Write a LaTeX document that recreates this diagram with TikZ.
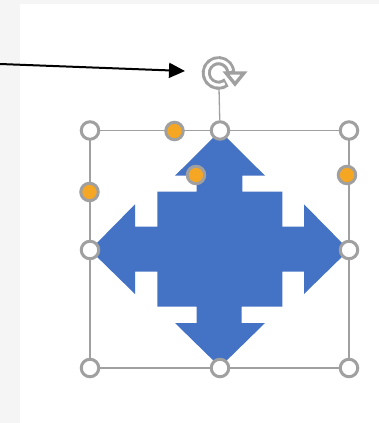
\documentclass[tikz,border=0pt]{standalone}
\usetikzlibrary{arrows.meta}
\definecolor{hgray}{RGB}{160,160,160}
\definecolor{shapeblue}{RGB}{68,114,196}
\definecolor{hamber}{RGB}{245,166,35}
\tikzset{x=1pt,y=-1pt,
  handle/.style={circle,draw=hgray,line width=3pt,fill=white,minimum size=17.5pt,inner sep=0pt},
  adjust/.style={circle,draw=hgray,line width=3pt,fill=hamber,minimum size=17.5pt,inner sep=0pt},
  frameline/.style={draw=hgray,line width=1.3pt}}
\begin{document}
\begin{tikzpicture}
\useasboundingbox (0,0) rectangle (379,423);
\fill[black!4] (0,0) rectangle (379,423);
\fill[white] (20,4) rectangle (379,423);
\coordinate (rot) at (218.5,73);
\coordinate (rotbase) at (219,88);
\coordinate (tl) at (90,130.5);
\coordinate (tr) at (349,130.5);
\coordinate (bl) at (90,368);
\coordinate (br) at (349,368);
\draw[frameline] (tl) rectangle (br);
\fill[shapeblue] (220,131) -- (265,175.7) -- (242.3,175.7) -- (242.3,191.7) -- (282.3,191.7)
 -- (282.3,226.7) -- (304,226.7) -- (304,204.3) -- (349,250) -- (304,294) -- (304,271.7)
 -- (282.3,271.7) -- (282.3,306.7) -- (241.7,306.7) -- (241.7,323) -- (265,323) -- (220,367)
 -- (175,323) -- (196.7,323) -- (196.7,306.7) -- (157.3,306.7) -- (157.3,271.7) -- (135,271.7)
 -- (135,294) -- (90,250) -- (135,204.3) -- (135,226.7) -- (157.3,226.7) -- (157.3,191.7)
 -- (196.7,191.7) -- (196.7,175.7) -- (175,175.7) -- cycle;
\node[handle] (tm) at (220,130.5) {};
\draw[frameline] (rotbase) -- (tm);
\node[handle] (h1) at (tl) {};
\node[handle] (h2) at (tr) {};
\node[handle] (h3) at (bl) {};
\node[handle] (h4) at (br) {};
\node[handle] (h5) at (90,250) {};
\node[handle] (h6) at (349,250) {};
\node[handle] (h7) at (220,368) {};
\node[adjust] (a1) at (174.5,131) {};
\node[adjust] (a2) at (89.5,192) {};
\node[adjust] (a3) at (347,175) {};
\node[adjust] (a4) at (196,175) {};
% rotate icon
\draw[hgray,line width=9pt] (rot) ++(7.9,9.4) arc[start angle=-50,end angle=-360,radius=12.3pt];
\draw[white,line width=3pt] (rot) ++(6.2,10.6) arc[start angle=-60,end angle=-350,radius=12.3pt];
\path[draw=hgray,fill=white,line width=3.4pt,line join=miter] (226,73) -- (244,73) -- (235,84) -- cycle;
% pointer arrow
\coordinate (from) at (0,64);
\coordinate (to) at (185,71);
\draw[line width=2pt,-{Triangle[length=16pt,width=15pt]}] (from) -- (to);
\end{tikzpicture}
\end{document}
